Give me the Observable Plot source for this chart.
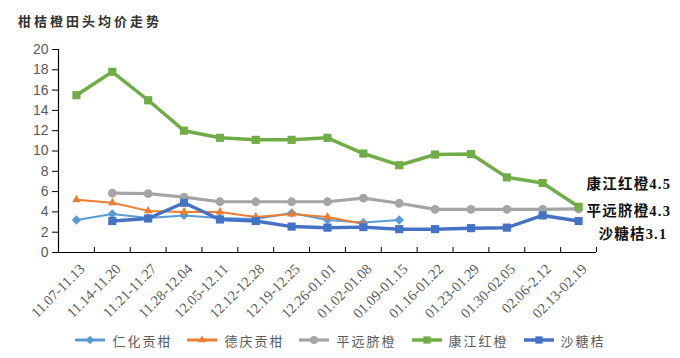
<!DOCTYPE html>
<html>
<head>
<meta charset="utf-8">
<script src="https://cdn.jsdelivr.net/npm/d3@7"></script>
<script src="https://cdn.jsdelivr.net/npm/@observablehq/plot@0.6"></script>
<style>
  html, body { margin: 0; padding: 0; background: #fff; }
  #wrap { width: 680px; height: 358px; position: relative; overflow: hidden; }
  #title { height: 36px; line-height: 42px; padding-left: 18px; font-family: "Noto Sans CJK SC", sans-serif; font-weight: 700; font-size: 13px; letter-spacing: 3px; color: #333; }
  #legend { display: flex; justify-content: center; gap: 14px; font-family: "Noto Sans CJK SC", sans-serif; font-size: 13px; color: #595959; height: 28px; align-items: center; }
  .item { display: flex; align-items: center; gap: 6px; letter-spacing: 2px; }
  .endlabel text { letter-spacing: 1.2px; }
</style>
</head>
<body>
<div id="wrap">
  <div id="title">柑桔橙田头均价走势</div>
  <div id="chart"></div>
  <div id="legend"></div>
</div>
<script>
const categories = ["11.07-11.13","11.14-11.20","11.21-11.27","11.28-12.04","12.05-12.11","12.12-12.28","12.19-12.25","12.26-01.01","01.02-01.08","01.09-01.15","01.16-01.22","01.23-01.29","01.30-02.05","02.06-2.12","02.13-02.19"];
const seriesNames = ["仁化贡柑","德庆贡柑","平远脐橙","康江红橙","沙糖桔"];
const renhua   = [3.2, 3.8, 3.4, 3.65, 3.4, 3.3, 3.9, 3.2, 2.95, 3.2, null, null, null, null, null];
const deqing   = [5.2, 4.9, 4.1, 4.0, 4.0, 3.5, 3.8, 3.5, 2.8, null, null, null, null, null, null];
const pingyuan = [null, 5.85, 5.8, 5.45, 5.0, 5.0, 5.0, 5.0, 5.35, 4.85, 4.25, 4.25, 4.25, 4.25, 4.3];
const kangjiang= [15.5, 17.8, 15.0, 12.0, 11.3, 11.1, 11.1, 11.3, 9.75, 8.6, 9.65, 9.7, 7.4, 6.85, 4.5];
const shatang  = [null, 3.1, 3.35, 4.9, 3.25, 3.1, 2.55, 2.45, 2.5, 2.3, 2.3, 2.4, 2.45, 3.65, 3.1];
const yTicks = [0,2,4,6,8,10,12,14,16,18,20];
const endLabels = [
  {name: "康江红橙", text: "4.5", value: 4.5},
  {name: "平远脐橙", text: "4.3", value: 4.3},
  {name: "沙糖桔", text: "3.1", value: 3.1}
];
const labelOffsets = [[8, -22], [8, 3], [20, 13]];

const styles = {
  "仁化贡柑": {color: "#5B9BD5", width: 2, symbol: "diamond2", r: 4.2},
  "德庆贡柑": {color: "#ED7D31", width: 2, symbol: "triangle", r: 3.2},
  "平远脐橙": {color: "#A5A5A5", width: 3.2, symbol: "circle", r: 4.4},
  "康江红橙": {color: "#70AD47", width: 3.5, symbol: "square", r: 4.6},
  "沙糖桔":   {color: "#4472C4", width: 3.5, symbol: "square", r: 4.6}
};
const values = {"仁化贡柑": renhua, "德庆贡柑": deqing, "平远脐橙": pingyuan, "康江红橙": kangjiang, "沙糖桔": shatang};

const idx = categories.map((c, i) => i);
const boundaries = categories.map((c, i) => i + 0.5);

const marks = [];
for (const name of seriesNames) {
  const s = styles[name];
  const data = values[name].map((v, i) => ({i, v}));
  marks.push(Plot.line(data, {x: "i", y: "v", stroke: s.color, strokeWidth: s.width}));
}
for (const name of seriesNames) {
  const s = styles[name];
  const data = values[name].map((v, i) => ({i, v})).filter(d => d.v != null);
  marks.push(Plot.dot(data, {x: "i", y: "v", symbol: s.symbol, r: s.r, fill: s.color, stroke: "none"}));
}

const last = categories.length - 1;
const labelMarks = endLabels.map((d, k) => Plot.text([d], {
  x: () => last, y: "value", text: e => e.name + e.text,
  dx: labelOffsets[k][0], dy: labelOffsets[k][1], textAnchor: "start",
  fontSize: 14.5, fontWeight: "bold", fill: "#111", className: "endlabel",
  fontFamily: "'Liberation Serif', 'Noto Sans CJK SC', serif"
}));

const chart = Plot.plot({
  width: 680,
  height: 290,
  marginTop: 13,
  marginBottom: 74,
  marginLeft: 58,
  marginRight: 84,
  style: {fontFamily: "'Liberation Serif', serif", background: "#fff", overflow: "visible"},
  x: {type: "linear", domain: [-0.5, categories.length - 0.5], axis: null, label: null},
  y: {domain: [0, 20], axis: null, label: null},
  marks: [
    Plot.axisY({ticks: yTicks, tickSize: 6, tickPadding: 4, fontSize: 14, color: "#595959", stroke: "#000", tickFormat: d => String(d), label: null, fontFamily: "'Liberation Sans', sans-serif"}),
    Plot.axisX({ticks: boundaries, tickSize: -5, tickFormat: () => "", stroke: "#000", label: null}),
    Plot.axisX({ticks: idx, tickSize: 0, tickPadding: 14, tickRotate: -45, fontSize: 14.5, color: "#595959", tickFormat: i => categories[i], dx: 6, label: null}),
    Plot.ruleY([0], {stroke: "#000", strokeWidth: 1.2}),
    Plot.ruleX([-0.5], {stroke: "#000", strokeWidth: 1.2}),
    ...marks,
    ...labelMarks
  ]
});
document.getElementById("chart").appendChild(chart);

const symbolMap = {diamond2: d3.symbolDiamond2, triangle: d3.symbolTriangle, circle: d3.symbolCircle, square: d3.symbolSquare};
const legend = document.getElementById("legend");
for (const name of seriesNames) {
  const s = styles[name];
  const item = document.createElement("div");
  item.className = "item";
  const sw = d3.create("svg").attr("width", 32).attr("height", 12);
  sw.append("line").attr("x1", 1).attr("x2", 31).attr("y1", 6).attr("y2", 6).attr("stroke", s.color).attr("stroke-width", Math.max(3, s.width));
  sw.append("path").attr("transform", "translate(16,6)").attr("d", d3.symbol(symbolMap[s.symbol], Math.PI * s.r * s.r * 0.8)()).attr("fill", s.color);
  item.appendChild(sw.node());
  const t = document.createElement("span");
  t.textContent = name;
  item.appendChild(t);
  legend.appendChild(item);
}
</script>
</body>
</html>
